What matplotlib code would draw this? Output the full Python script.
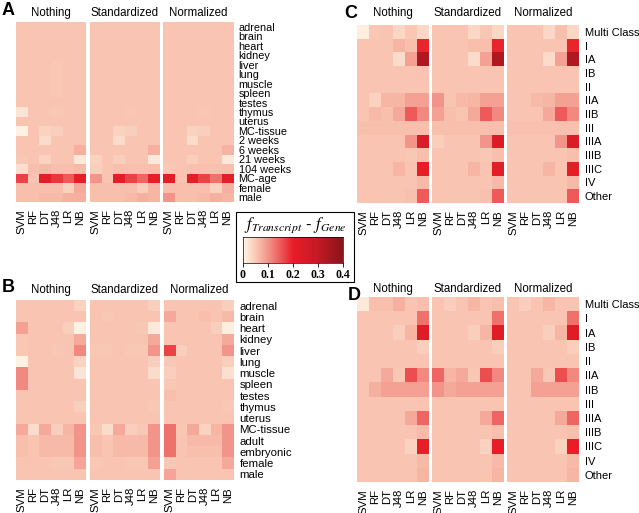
import matplotlib
matplotlib.use('Agg')
import matplotlib.pyplot as plt
import numpy as np
from matplotlib.colors import LinearSegmentedColormap
from matplotlib.patches import Rectangle

plt.rcParams['font.family'] = ['Liberation Sans', 'DejaVu Sans']
plt.rcParams['mathtext.fontset'] = 'stix'

methods = ["SVM", "RF", "DT", "J48", "LR", "NB"]
groups = ["Nothing", "Standardized", "Normalized"]

rows_A = ["adrenal", "brain", "heart", "kidney", "liver", "lung", "muscle", "spleen",
          "testes", "thymus", "uterus", "MC-tissue", "2 weeks", "6 weeks", "21 weeks",
          "104 weeks", "MC-age", "female", "male"]
rows_B = ["adrenal", "brain", "heart", "kidney", "liver", "lung", "muscle", "spleen",
          "testes", "thymus", "uterus", "MC-tissue", "adult", "embryonic", "female", "male"]
rows_CD = ["Multi Class", "I", "IA", "IB", "II", "IIA", "IIB", "III", "IIIA", "IIIB",
           "IIIC", "IV", "Other"]

A_nothing = [
    [.055, .055, .055, .055, .055, .055],
    [.055, .055, .055, .055, .055, .055],
    [.055, .055, .055, .055, .055, .055],
    [.055, .055, .055, .055, .055, .055],
    [.055, .055, .055, .052, .055, .055],
    [.055, .055, .055, .052, .055, .055],
    [.055, .055, .055, .052, .055, .055],
    [.055, .055, .055, .052, .055, .055],
    [.055, .055, .055, .055, .055, .055],
    [.020, .055, .055, .050, .055, .055],
    [.055, .055, .055, .055, .055, .055],
    [.005, .055, .040, .045, .055, .055],
    [.055, .055, .030, .055, .055, .055],
    [.055, .055, .055, .055, .055, .075],
    [.050, .055, .040, .055, .055, .015],
    [.025, .060, .065, .060, .060, .065],
    [.170, .055, .210, .180, .150, .200],
    [.060, .060, .060, .060, .040, .080],
    [.060, .060, .065, .065, .075, .075],
]
A_standardized = [
    [.055, .055, .055, .055, .055, .055],
    [.055, .055, .055, .055, .055, .055],
    [.055, .055, .055, .055, .055, .055],
    [.055, .055, .055, .055, .055, .055],
    [.055, .055, .055, .055, .055, .055],
    [.055, .055, .055, .055, .055, .055],
    [.055, .055, .055, .055, .055, .055],
    [.055, .055, .055, .055, .055, .055],
    [.055, .055, .055, .055, .055, .055],
    [.055, .055, .055, .052, .055, .055],
    [.055, .055, .055, .055, .055, .055],
    [.055, .055, .040, .045, .055, .055],
    [.055, .055, .030, .055, .055, .055],
    [.055, .055, .055, .055, .055, .075],
    [.040, .055, .045, .055, .055, .015],
    [.045, .055, .060, .058, .058, .060],
    [.100, .055, .210, .170, .140, .200],
    [.060, .060, .060, .060, .045, .070],
    [.060, .060, .060, .065, .075, .070],
]
A_normalized = [
    [.055, .055, .055, .055, .055, .055],
    [.055, .055, .055, .055, .055, .055],
    [.055, .055, .055, .055, .055, .055],
    [.055, .055, .055, .055, .055, .055],
    [.055, .055, .055, .055, .055, .055],
    [.055, .055, .055, .055, .055, .055],
    [.055, .055, .055, .055, .055, .055],
    [.055, .055, .055, .055, .055, .055],
    [.055, .055, .055, .055, .055, .055],
    [.055, .055, .055, .052, .055, .055],
    [.055, .055, .055, .055, .055, .055],
    [.055, .055, .040, .045, .055, .055],
    [.055, .055, .030, .055, .055, .055],
    [.055, .055, .055, .055, .055, .072],
    [.055, .055, .045, .055, .055, .015],
    [.050, .055, .058, .058, .058, .060],
    [.210, .055, .210, .170, .130, .210],
    [.060, .060, .060, .060, .040, .075],
    [.100, .060, .060, .065, .075, .070],
]

B_nothing = [
    [.055, .055, .055, .055, .055, .040],
    [.055, .055, .055, .055, .055, .055],
    [.090, .055, .055, .055, .045, .005],
    [.050, .055, .055, .055, .055, .080],
    [.052, .055, .055, .050, .055, .110],
    [.005, .055, .055, .055, .055, .040],
    [.110, .055, .055, .055, .055, .020],
    [.110, .055, .055, .055, .055, .055],
    [.055, .055, .055, .055, .055, .055],
    [.055, .055, .055, .055, .055, .045],
    [.055, .055, .055, .055, .055, .055],
    [.080, .030, .080, .045, .070, .100],
    [.060, .055, .065, .065, .065, .100],
    [.060, .055, .065, .065, .065, .100],
    [.055, .055, .055, .050, .050, .085],
    [.055, .055, .055, .055, .055, .055],
]
B_standardized = [
    [.055, .055, .055, .055, .055, .045],
    [.055, .050, .055, .055, .055, .055],
    [.055, .055, .055, .055, .050, .015],
    [.055, .055, .055, .055, .055, .080],
    [.050, .050, .055, .050, .050, .100],
    [.055, .055, .055, .055, .055, .045],
    [.055, .055, .055, .055, .055, .030],
    [.055, .055, .055, .055, .055, .055],
    [.055, .055, .055, .055, .055, .055],
    [.055, .055, .055, .055, .055, .050],
    [.055, .055, .055, .055, .055, .055],
    [.050, .030, .080, .045, .050, .100],
    [.060, .055, .065, .065, .065, .100],
    [.060, .055, .065, .065, .065, .100],
    [.050, .055, .055, .050, .050, .090],
    [.055, .055, .055, .055, .055, .055],
]
B_normalized = [
    [.055, .055, .055, .055, .055, .045],
    [.080, .055, .055, .060, .055, .065],
    [.055, .055, .055, .055, .045, .010],
    [.055, .055, .055, .055, .055, .080],
    [.170, .045, .055, .055, .055, .100],
    [.050, .055, .055, .055, .055, .045],
    [.045, .055, .055, .055, .055, .025],
    [.050, .055, .055, .055, .055, .055],
    [.060, .055, .055, .055, .055, .055],
    [.055, .055, .055, .055, .055, .050],
    [.055, .055, .055, .055, .055, .055],
    [.130, .050, .080, .040, .070, .100],
    [.130, .055, .065, .065, .065, .100],
    [.130, .055, .060, .060, .060, .100],
    [.050, .055, .055, .055, .055, .080],
    [.085, .055, .055, .055, .055, .055],
]

C_nothing = [
    [.010, .050, .055, .035, .050, .035],
    [.055, .055, .055, .070, .060, .195],
    [.055, .055, .055, .030, .090, .335],
    [.055, .055, .055, .055, .055, .055],
    [.055, .055, .055, .055, .055, .055],
    [.055, .040, .070, .070, .090, .090],
    [.055, .065, .060, .080, .150, .110],
    [.060, .060, .060, .060, .060, .060],
    [.055, .055, .055, .055, .100, .240],
    [.055, .055, .055, .055, .050, .060],
    [.055, .055, .055, .070, .055, .210],
    [.055, .055, .055, .055, .055, .065],
    [.055, .055, .055, .055, .058, .150],
]
C_standardized = [
    [.055, .055, .055, .035, .050, .035],
    [.055, .055, .055, .060, .060, .195],
    [.055, .055, .055, .030, .090, .335],
    [.055, .055, .055, .055, .055, .055],
    [.055, .055, .055, .055, .055, .055],
    [.100, .055, .065, .070, .090, .090],
    [.090, .060, .055, .080, .150, .110],
    [.060, .060, .060, .060, .060, .060],
    [.045, .055, .055, .055, .100, .240],
    [.055, .055, .055, .055, .050, .060],
    [.055, .055, .055, .070, .055, .210],
    [.055, .055, .055, .055, .055, .065],
    [.055, .055, .055, .055, .058, .150],
]
C_normalized = [
    [.055, .055, .055, .035, .060, .035],
    [.055, .055, .055, .055, .055, .195],
    [.055, .055, .055, .030, .090, .335],
    [.055, .055, .055, .055, .055, .055],
    [.055, .055, .055, .055, .055, .055],
    [.055, .055, .065, .070, .090, .090],
    [.055, .055, .055, .080, .150, .110],
    [.058, .058, .058, .058, .058, .058],
    [.055, .055, .055, .055, .100, .240],
    [.055, .055, .055, .055, .055, .060],
    [.055, .055, .055, .070, .055, .210],
    [.055, .055, .055, .055, .055, .065],
    [.055, .055, .055, .055, .055, .150],
]

D_nothing = [
    [.015, .060, .060, .075, .055, .060],
    [.055, .055, .055, .055, .055, .130],
    [.055, .055, .055, .045, .070, .220],
    [.055, .055, .055, .055, .055, .045],
    [.055, .055, .055, .055, .055, .055],
    [.055, .055, .080, .050, .160, .110],
    [.055, .075, .090, .090, .090, .090],
    [.055, .055, .055, .055, .055, .055],
    [.055, .055, .055, .055, .080, .140],
    [.055, .055, .055, .055, .055, .065],
    [.055, .055, .055, .055, .040, .200],
    [.055, .055, .055, .055, .055, .065],
    [.055, .055, .055, .055, .055, .070],
]
D_standardized = [
    [.055, .045, .055, .070, .055, .060],
    [.055, .055, .055, .055, .055, .130],
    [.055, .055, .055, .045, .070, .220],
    [.055, .055, .055, .055, .055, .045],
    [.055, .055, .055, .055, .055, .055],
    [.140, .070, .080, .050, .160, .110],
    [.100, .080, .090, .090, .090, .090],
    [.055, .055, .055, .055, .055, .055],
    [.055, .055, .055, .055, .080, .140],
    [.055, .055, .055, .055, .055, .060],
    [.055, .055, .055, .055, .040, .200],
    [.055, .055, .055, .055, .055, .065],
    [.055, .055, .055, .055, .055, .070],
]
D_normalized = [
    [.055, .045, .055, .070, .055, .055],
    [.055, .055, .055, .055, .055, .130],
    [.055, .055, .055, .045, .070, .220],
    [.055, .055, .055, .055, .055, .045],
    [.055, .055, .055, .055, .055, .055],
    [.055, .055, .080, .050, .160, .110],
    [.055, .055, .090, .090, .090, .090],
    [.055, .055, .055, .055, .055, .055],
    [.055, .055, .055, .055, .080, .140],
    [.055, .055, .055, .055, .055, .060],
    [.055, .055, .055, .055, .040, .200],
    [.055, .055, .055, .055, .055, .065],
    [.055, .055, .055, .055, .055, .070],
]

cbar_ticks = [0, 0.1, 0.2, 0.3, 0.4]

W, H = 639, 513
fig = plt.figure(figsize=(W / 100, H / 100), dpi=100)


def add_ax(x0, y0, x1, y1):
    return fig.add_axes([x0 / W, 1 - y1 / H, (x1 - x0) / W, (y1 - y0) / H])


cmap = LinearSegmentedColormap.from_list('ft', [
    (0.0, '#fff7e8'), (0.1375, '#f9c4b1'), (0.25, '#f3958a'),
    (0.5, '#e81e28'), (0.75, '#c41a26'), (1.0, '#8a1419')])


def draw_panel(letter, letter_xy, title_y, top, bottom, xs, w, datas, rows, fs_row):
    for k, (x0, data) in enumerate(zip(xs, datas)):
        ax = add_ax(x0, top, x0 + w, bottom)
        ax.imshow(np.array(data), cmap=cmap, vmin=0, vmax=0.4, aspect='auto',
                  interpolation='nearest')
        for s in ax.spines.values():
            s.set_visible(False)
        ax.set_xticks(range(len(methods)))
        ax.set_xticklabels(methods, rotation=90, fontsize=8.2)
        ax.tick_params(axis='x', length=0, pad=5)
        if k == 2:
            ax.yaxis.tick_right()
            ax.set_yticks(range(len(rows)))
            ax.set_yticklabels(rows, fontsize=fs_row)
            ax.tick_params(axis='y', length=0, pad=4)
        else:
            ax.set_yticks([])
        fig.text((x0 + w / 2) / W, 1 - title_y / H, groups[k], ha='center',
                 va='center', fontsize=8.3)
    fig.text(letter_xy[0] / W, 1 - letter_xy[1] / H, letter, fontsize=13,
             fontweight='bold', ha='left', va='center')


draw_panel("A", (2, 11), 13, 22, 202, [16, 89.5, 163], 70,
           [A_nothing, A_standardized, A_normalized], rows_A, 7.8)
draw_panel("B", (2, 288), 290, 300, 480, [16, 90, 164], 70,
           [B_nothing, B_standardized, B_normalized], rows_B, 8.2)
draw_panel("C", (344, 13), 13, 25, 203, [357, 432, 507], 72,
           [C_nothing, C_standardized, C_normalized], rows_CD, 8.0)
draw_panel("D", (348, 295), 289, 297, 482, [357, 432, 507], 72,
           [D_nothing, D_standardized, D_normalized], rows_CD, 8.0)

# colorbar box
fig.patches.append(Rectangle((236 / W, 1 - 282 / H), (354 - 236) / W, (282 - 212) / H,
                             transform=fig.transFigure, fill=False, edgecolor='black',
                             linewidth=0.8))
fig.text(295 / W, 1 - 225 / H, r'$f_{Transcript}$ - $f_{Gene}$', ha='center',
         va='center', fontsize=12)
cax = add_ax(243, 237, 343, 263)
grad = np.linspace(0, 0.4, 256).reshape(1, -1)
cax.imshow(grad, cmap=cmap, vmin=0, vmax=0.4, aspect='auto', extent=[0, 0.4, 0, 1])
cax.set_xlim(0, 0.4)
cax.set_yticks([])
cax.set_xticks(cbar_ticks)
cax.set_xticklabels(['0', '0.1', '0.2', '0.3', '0.4'], fontfamily='Liberation Serif',
                    fontweight='bold', fontsize=8.5)
cax.tick_params(axis='x', length=3, width=0.6, pad=1.5)
for s in cax.spines.values():
    s.set_linewidth(0.5)

fig.savefig('out.png', dpi=100)
